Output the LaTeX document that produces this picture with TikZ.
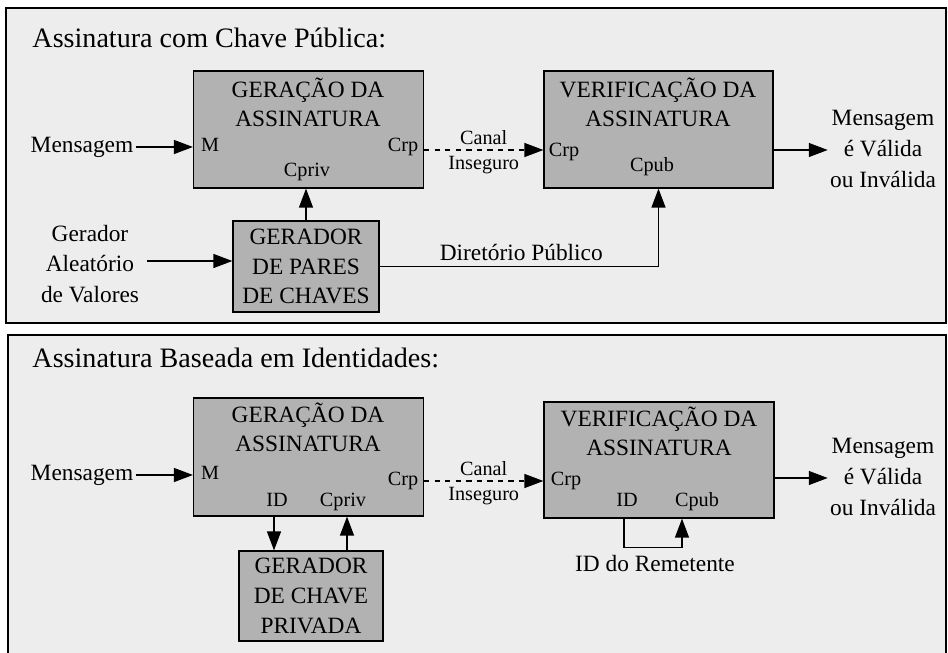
\documentclass[tikz,border=0pt]{standalone}
\usepackage{fontspec}
\setmainfont{Liberation Serif}
\usetikzlibrary{arrows.meta, positioning, calc}

\begin{document}
\begin{tikzpicture}[x=0.02cm, y=-0.02cm, >={Triangle[length=0.38cm,width=0.28cm]}, line width=0.7pt,
    font=\fontsize{13.3}{16}\selectfont,
    panel/.style={fill=black!7, line width=1.2pt},
    blk/.style={draw, fill=black!30, minimum width=4.6cm, minimum height=2.34cm, inner sep=0pt},
    gen/.style={draw, fill=black!30, align=center, inner sep=0pt, font=\fontsize{13.3}{17}\selectfont},
    ttl/.style={align=center, font=\fontsize{13.3}{16.5}\selectfont},
    port/.style={font=\fontsize{11.5}{13}\selectfont, inner sep=1pt, text height=1.6ex, text depth=0.5ex},
    lbl/.style={align=center, inner sep=1pt},
    res/.style={lbl, font=\fontsize{13.3}{17.5}\selectfont},
    head/.style={anchor=west, font=\fontsize{16}{18}\selectfont}]
    \useasboundingbox[fill=white] (0,0) rectangle (948,653);
    % quadros
    \draw[panel] (6,8) rectangle (946,323);
    \fill[black!7] (8,335) rectangle (946,653);
    \draw[line width=1.2pt] (8,653) -- (8,335) -- (946,335) -- (946,653);

    % chave publica
    \node[head] (h1) at (26,38) {Assinatura com Chave Pública:};
    \node[blk] (gen1) at (308.5,129.5) {};
    \node[ttl] at (308,102.5) {GERAÇÃO DA\\ASSINATURA};
    \node[port] at (210,147) {M};
    \node[port] at (403,147) {Crp};
    \node[port] at (307,172) {Cpriv};
    \node[blk, minimum width=4.58cm] (ver1) at (658.5,129.5) {};
    \node[ttl] at (658,102.5) {VERIFICAÇÃO DA\\ASSINATURA};
    \node[port] at (564,152) {Crp};
    \node[port] at (652,167) {Cpub};
    \node[gen, minimum width=2.92cm, minimum height=1.82cm] (kp) at (306,266.5) {GERADOR\\DE PARES\\DE CHAVES};
    \node[lbl] (msg1) at (82,147) {Mensagem};
    \node[res] (rng) at (90,264) {Gerador\\Aleatório\\de Valores};
    \node[res] (res1) at (883,149) {Mensagem\\é Válida\\ou Inválida};

    \draw[->] (msg1.east) -- (msg1.east -| gen1.west);
    \draw[->] (rng.east) ++(6,-3) coordinate (r0) -- (r0 -| kp.west);
    \draw[->] (kp.north) -- (kp.north |- gen1.south);
    \draw[->] (kp.east) -| node[pos=0.254, above, inner sep=3pt] {Diretório Público} (ver1.south);
    \draw[->, dashed] ([yshift=-0.41cm]gen1.east) -- node[above, port, inner sep=0.5pt] {Canal} node[below, port, inner sep=3.5pt] {Inseguro} ([yshift=-0.41cm]ver1.west);
    \draw[->] ([yshift=-0.41cm]ver1.east) -- ([yshift=-0.41cm]ver1.east -| res1.west);

    % identidades
    \node[head] (h2) at (26,358) {Assinatura Baseada em Identidades:};
    \node[blk, minimum height=2.36cm] (gen2) at (308.5,457) {};
    \node[ttl] at (308,427.5) {GERAÇÃO DA\\ASSINATURA};
    \node[port] at (210,475) {M};
    \node[port] at (403,481) {Crp};
    \node[port] at (277,502) {ID};
    \node[port] at (343,502) {Cpriv};
    \node[blk, minimum height=2.32cm] (ver2) at (659,460) {};
    \node[ttl] at (659,431) {VERIFICAÇÃO DA\\ASSINATURA};
    \node[port] at (566,481) {Crp};
    \node[port] at (627,502) {ID};
    \node[port] at (697,502) {Cpub};
    \node[gen, minimum width=2.88cm, minimum height=1.8cm] (pk) at (311,596) {GERADOR\\DE CHAVE\\PRIVADA};
    \node[lbl] (msg2) at (82,475) {Mensagem};
    \node[res] (res2) at (883,477) {Mensagem\\é Válida\\ou Inválida};
    \node[lbl] (rem) at (655,564) {ID do Remetente};

    \draw[->] (msg2.east) -- (msg2.east -| gen2.west);
    \draw[->] ([xshift=-0.69cm]gen2.south) -- ([xshift=-0.69cm]gen2.south |- pk.north);
    \draw[->] ([xshift=0.72cm]pk.north) -- ([xshift=0.72cm]pk.north |- gen2.south);
    \draw[->, dashed] ([yshift=-0.48cm]gen2.east) coordinate (c2) -- node[above, port, inner sep=0.5pt] {Canal} node[below, port, inner sep=3.5pt] {Inseguro} (c2 -| ver2.west);
    \draw[->] ([yshift=-0.36cm]ver2.east) -- ([yshift=-0.36cm]ver2.east -| res2.west);
    \draw[->] ([xshift=-0.7cm]ver2.south) -- ++(0,29) -| ([xshift=0.46cm]ver2.south);
\end{tikzpicture}
\end{document}
